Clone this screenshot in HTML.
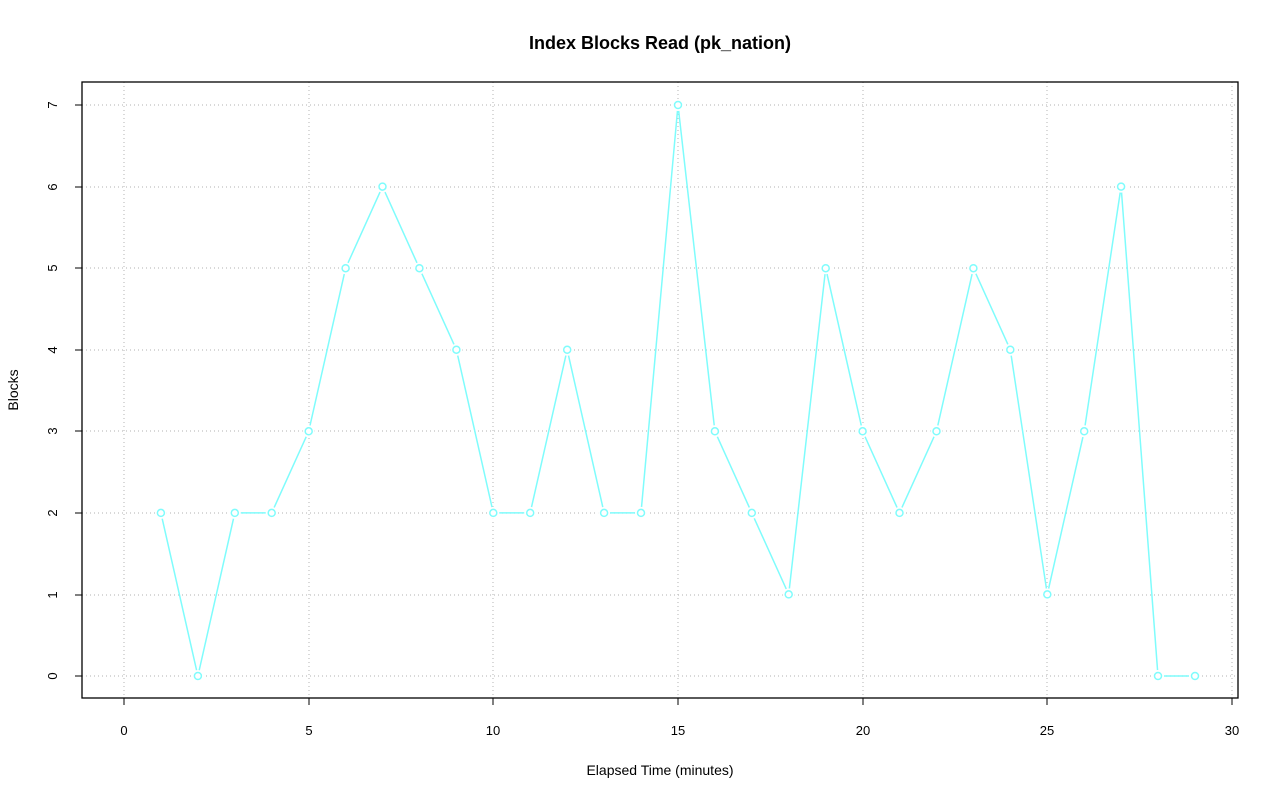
<!DOCTYPE html>
<html><head><meta charset="utf-8"><style>body{margin:0;background:#fff}svg{display:block}</style></head>
<body>
<svg width="1280" height="801" xmlns="http://www.w3.org/2000/svg" font-family="Liberation Sans, sans-serif">
<rect width="1280" height="801" fill="#fff"/>
<text x="660" y="49" text-anchor="middle" font-size="18" font-weight="bold">Index Blocks Read (pk_nation)</text>
<g stroke="#c0c0c0" stroke-dasharray="1,3" stroke-width="1.2">
<line x1="124" y1="82" x2="124" y2="698"/><line x1="309" y1="82" x2="309" y2="698"/><line x1="493" y1="82" x2="493" y2="698"/><line x1="678" y1="82" x2="678" y2="698"/><line x1="863" y1="82" x2="863" y2="698"/><line x1="1047" y1="82" x2="1047" y2="698"/><line x1="1232" y1="82" x2="1232" y2="698"/>
<line x1="82" y1="676" x2="1238" y2="676"/><line x1="82" y1="595" x2="1238" y2="595"/><line x1="82" y1="513" x2="1238" y2="513"/><line x1="82" y1="431" x2="1238" y2="431"/><line x1="82" y1="350" x2="1238" y2="350"/><line x1="82" y1="268" x2="1238" y2="268"/><line x1="82" y1="187" x2="1238" y2="187"/><line x1="82" y1="105" x2="1238" y2="105"/>
</g>
<rect x="82" y="82" width="1156" height="616" fill="none" stroke="#000" stroke-width="1.3"/>
<g stroke="#000" stroke-width="1">
<line x1="124" y1="698" x2="1232" y2="698"/>
<line x1="124" y1="698" x2="124" y2="705"/><line x1="309" y1="698" x2="309" y2="705"/><line x1="493" y1="698" x2="493" y2="705"/><line x1="678" y1="698" x2="678" y2="705"/><line x1="863" y1="698" x2="863" y2="705"/><line x1="1047" y1="698" x2="1047" y2="705"/><line x1="1232" y1="698" x2="1232" y2="705"/>
<line x1="75" y1="676" x2="82" y2="676"/><line x1="75" y1="595" x2="82" y2="595"/><line x1="75" y1="513" x2="82" y2="513"/><line x1="75" y1="431" x2="82" y2="431"/><line x1="75" y1="350" x2="82" y2="350"/><line x1="75" y1="268" x2="82" y2="268"/><line x1="75" y1="187" x2="82" y2="187"/><line x1="75" y1="105" x2="82" y2="105"/>
</g>
<g font-size="13" text-anchor="middle">
<text x="124" y="735">0</text><text x="309" y="735">5</text><text x="493" y="735">10</text><text x="678" y="735">15</text><text x="863" y="735">20</text><text x="1047" y="735">25</text><text x="1232" y="735">30</text>
<text transform="translate(57,676) rotate(-90)">0</text><text transform="translate(57,595) rotate(-90)">1</text><text transform="translate(57,513) rotate(-90)">2</text><text transform="translate(57,431) rotate(-90)">3</text><text transform="translate(57,350) rotate(-90)">4</text><text transform="translate(57,268) rotate(-90)">5</text><text transform="translate(57,187) rotate(-90)">6</text><text transform="translate(57,105) rotate(-90)">7</text>
<text x="660" y="775" font-size="14">Elapsed Time (minutes)</text>
<text transform="translate(18,390) rotate(-90)" font-size="14">Blocks</text>
</g>
<polyline fill="none" stroke="#7ffcfc" stroke-width="1.5" points="160.9,512.9 197.9,676 234.8,512.9 271.7,512.9 308.7,431.3 345.6,268.2 382.5,186.6 419.4,268.2 456.4,349.7 493.3,512.9 530.2,512.9 567.2,349.7 604.1,512.9 641,512.9 678,105 714.9,431.3 751.8,512.9 788.7,594.4 825.7,268.2 862.6,431.3 899.5,512.9 936.5,431.3 973.4,268.2 1010.3,349.7 1047.3,594.4 1084.2,431.3 1121.1,186.6 1158,676 1195,676"/>
<g fill="#fff" stroke="#fff" stroke-width="5">
<circle cx="160.9" cy="512.9" r="3.5"/><circle cx="197.9" cy="676" r="3.5"/><circle cx="234.8" cy="512.9" r="3.5"/><circle cx="271.7" cy="512.9" r="3.5"/><circle cx="308.7" cy="431.3" r="3.5"/><circle cx="345.6" cy="268.2" r="3.5"/><circle cx="382.5" cy="186.6" r="3.5"/><circle cx="419.4" cy="268.2" r="3.5"/><circle cx="456.4" cy="349.7" r="3.5"/><circle cx="493.3" cy="512.9" r="3.5"/><circle cx="530.2" cy="512.9" r="3.5"/><circle cx="567.2" cy="349.7" r="3.5"/><circle cx="604.1" cy="512.9" r="3.5"/><circle cx="641" cy="512.9" r="3.5"/><circle cx="678" cy="105" r="3.5"/><circle cx="714.9" cy="431.3" r="3.5"/><circle cx="751.8" cy="512.9" r="3.5"/><circle cx="788.7" cy="594.4" r="3.5"/><circle cx="825.7" cy="268.2" r="3.5"/><circle cx="862.6" cy="431.3" r="3.5"/><circle cx="899.5" cy="512.9" r="3.5"/><circle cx="936.5" cy="431.3" r="3.5"/><circle cx="973.4" cy="268.2" r="3.5"/><circle cx="1010.3" cy="349.7" r="3.5"/><circle cx="1047.3" cy="594.4" r="3.5"/><circle cx="1084.2" cy="431.3" r="3.5"/><circle cx="1121.1" cy="186.6" r="3.5"/><circle cx="1158" cy="676" r="3.5"/><circle cx="1195" cy="676" r="3.5"/>
</g>
<g fill="none" stroke="#7ffcfc" stroke-width="1.5">
<circle cx="160.9" cy="512.9" r="3.5"/><circle cx="197.9" cy="676" r="3.5"/><circle cx="234.8" cy="512.9" r="3.5"/><circle cx="271.7" cy="512.9" r="3.5"/><circle cx="308.7" cy="431.3" r="3.5"/><circle cx="345.6" cy="268.2" r="3.5"/><circle cx="382.5" cy="186.6" r="3.5"/><circle cx="419.4" cy="268.2" r="3.5"/><circle cx="456.4" cy="349.7" r="3.5"/><circle cx="493.3" cy="512.9" r="3.5"/><circle cx="530.2" cy="512.9" r="3.5"/><circle cx="567.2" cy="349.7" r="3.5"/><circle cx="604.1" cy="512.9" r="3.5"/><circle cx="641" cy="512.9" r="3.5"/><circle cx="678" cy="105" r="3.5"/><circle cx="714.9" cy="431.3" r="3.5"/><circle cx="751.8" cy="512.9" r="3.5"/><circle cx="788.7" cy="594.4" r="3.5"/><circle cx="825.7" cy="268.2" r="3.5"/><circle cx="862.6" cy="431.3" r="3.5"/><circle cx="899.5" cy="512.9" r="3.5"/><circle cx="936.5" cy="431.3" r="3.5"/><circle cx="973.4" cy="268.2" r="3.5"/><circle cx="1010.3" cy="349.7" r="3.5"/><circle cx="1047.3" cy="594.4" r="3.5"/><circle cx="1084.2" cy="431.3" r="3.5"/><circle cx="1121.1" cy="186.6" r="3.5"/><circle cx="1158" cy="676" r="3.5"/><circle cx="1195" cy="676" r="3.5"/>
</g>
</svg>
</body></html>
